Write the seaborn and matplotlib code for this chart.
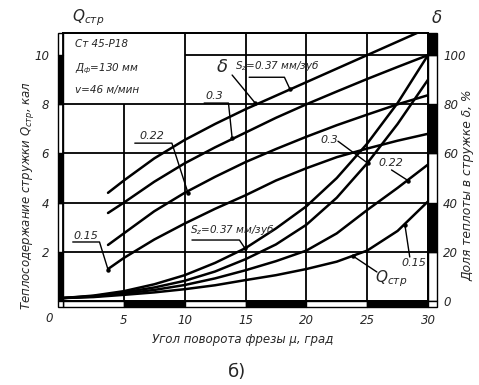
import pandas as pd
import matplotlib.pyplot as plt
import seaborn as sns
from matplotlib.patches import Rectangle

sns.set_style("white")
plt.rcParams['font.family'] = ['Liberation Sans Narrow', 'DejaVu Sans']
plt.rcParams['font.style'] = 'italic'
plt.rcParams['mathtext.fontset'] = 'dejavusans'
plt.rcParams['mathtext.default'] = 'it'

# ==========================
# Data
# ==========================

# heat content of chips Q_стр, cal
angle_q = [0, 2.5, 5, 7.5, 10, 12.5, 15, 17.5, 20, 22.5, 25, 27.5, 30]
q_037 = [0.12, 0.22, 0.40, 0.68, 1.05, 1.55, 2.15, 2.95, 3.85, 5.0, 6.4, 8.05, 10.0]
q_030 = [0.12, 0.20, 0.35, 0.55, 0.82, 1.20, 1.70, 2.30, 3.10, 4.2, 5.6, 7.2, 9.0]
q_022 = [0.12, 0.18, 0.30, 0.45, 0.65, 0.92, 1.25, 1.62, 2.05, 2.75, 3.7, 4.6, 5.55]
q_015 = [0.12, 0.16, 0.25, 0.35, 0.48, 0.64, 0.85, 1.05, 1.30, 1.60, 2.05, 2.85, 4.05]

# share of heat going into chips, %
angle_d = [3.7, 5, 7.5, 10, 12.5, 15, 17.5, 20, 22.5, 25, 27.5, 30]
d_037 = [44, 49, 58, 65.5, 72, 78, 83.5, 89, 94.5, 100, 105.5, 111]
d_030 = [35.8, 40, 48.5, 56, 62.5, 68.5, 74.5, 80, 85.2, 90.3, 95.2, 100]
d_022 = [22.8, 27.5, 36.5, 44, 50.5, 56.5, 61.8, 66.8, 71.5, 75.8, 80, 83.7]
d_015 = [13.0, 17.5, 25, 31.5, 37.5, 43, 49, 54, 58.5, 62, 65.2, 68]

feeds = ['0.37', '0.3', '0.22', '0.15']

q_df = pd.concat([pd.DataFrame({'angle': angle_q, 'Q': v, 'Sz': s})
                  for s, v in zip(feeds, [q_037, q_030, q_022, q_015])])
d_df = pd.concat([pd.DataFrame({'angle': angle_d, 'delta': v, 'Sz': s})
                  for s, v in zip(feeds, [d_037, d_030, d_022, d_015])])

QTOP = 10.9

fig = plt.figure(figsize=(4.79, 3.85), dpi=100)
ax = fig.add_axes([63 / 479, 1 - 301 / 385, 365 / 479, 268 / 385])
ax2 = ax.twinx()

ax.set_xlim(0, 30)
ax.set_ylim(0, QTOP)
ax2.set_ylim(0, QTOP * 10)

# grid (drawn by hand because of the text box in the corner)
ax.vlines([10, 15, 20, 25], 0, QTOP, color='black', lw=1.3, zorder=1)
ax.vlines([5], 0, 8, color='black', lw=1.3, zorder=1)
ax.hlines([2, 4, 6, 8], 0, 30, color='black', lw=1.3, zorder=1)
ax.hlines([10], 10, 30, color='black', lw=1.3, zorder=1)

sns.lineplot(data=q_df, x='angle', y='Q', units='Sz', estimator=None,
             color='black', lw=1.8, ax=ax, legend=False)
sns.lineplot(data=d_df, x='angle', y='delta', units='Sz', estimator=None,
             color='black', lw=1.8, ax=ax2, legend=False)

for a in (ax, ax2):
    for sp in a.spines.values():
        sp.set_color('black')
        sp.set_linewidth(1.3)
    a.tick_params(length=0)
    a.set_xlabel('')
    a.set_ylabel('')

ax.set_xticks([0, 5, 10, 15, 20, 25, 30])
ax.set_xticklabels(['', '5', '10', '15', '20', '25', '30'], fontsize=8.5)
ax.tick_params(axis='x', pad=9)
ax.set_yticks([2, 4, 6, 8, 10])
ax.set_yticklabels(['2', '4', '6', '8', '10'], fontsize=8.5)
ax.tick_params(axis='y', pad=10)
ax2.set_yticks([0, 20, 40, 60, 80, 100])
ax2.set_yticklabels(['0', '20', '40', '60', '80', '100'], fontsize=8.5)
ax2.tick_params(axis='y', pad=11)
fig.text(49 / 479, 1 - 318 / 385, '0', fontsize=8.5, ha='center', va='center')

# scale bars around the frame
def bar(x0, y0, w, h, fill):
    ax.add_patch(Rectangle((x0, y0), w, h, facecolor=fill, edgecolor='black',
                           lw=1.0, clip_on=False, zorder=3))

left_cols = ['black', 'white', 'black', 'white', 'black', 'white']
right_cols = ['white', 'black', 'white', 'black', 'white', 'black']
edges = [0, 2, 4, 6, 8, 10, QTOP]
for i in range(6):
    bar(-0.45, edges[i], 0.45, edges[i + 1] - edges[i], left_cols[i])
    bar(30, edges[i], 0.72, edges[i + 1] - edges[i], right_cols[i])
bottom_cols = ['white', 'black', 'white', 'black', 'white', 'black']
for i in range(6):
    bar(5 * i, -0.25, 5, 0.25, bottom_cols[i])
bar(-0.45, -0.25, 0.45, 0.25, 'white')
bar(30, -0.25, 0.72, 0.25, 'white')

# text box
ax.add_patch(Rectangle((0.02, 8.06), 9.93, QTOP - 8.08, facecolor='white',
                       edgecolor='none', zorder=2))
ax.text(1.0, 10.45, 'Ст 45-Р18', fontsize=7.5, va='center', zorder=4)
ax.text(1.0, 9.45, r'$Д_ф$=130 мм', fontsize=7.5, va='center', zorder=4)
ax.text(1.0, 8.6, 'v=46 м/мин', fontsize=7.5, va='center', zorder=4)

# leaders and labels
def leader(pts, label, tx, ty, size=8):
    xs = [p[0] for p in pts]
    ys = [p[1] for p in pts]
    ax.plot(xs, ys, color='black', lw=1.0, zorder=4)
    ax.plot(xs[-1], ys[-1], 'o', color='black', ms=2.2, zorder=4)
    ax.text(tx, ty, label, fontsize=size, ha='center', va='center', zorder=4)

leader([(13.9, 9.19), (15.8, 8.05)], 'δ', 13.1, 9.5, size=13)
leader([(15.3, 9.1), (18.2, 9.1), (18.65, 8.62)], r'$S_z$=0.37 мм/зуб', 17.6, 9.55, size=7.5)
leader([(11.6, 8.05), (13.6, 8.05), (13.9, 6.63)], '0.3', 12.4, 8.35)
leader([(5.9, 6.42), (8.95, 6.42), (10.27, 4.4)], '0.22', 7.3, 6.72)
leader([(0.8, 2.4), (3.0, 2.4), (3.7, 1.28)], '0.15', 1.9, 2.66)
leader([(10.6, 2.48), (14.5, 2.48), (14.95, 2.15)], r'$S_z$=0.37 мм/зуб', 13.9, 2.9, size=7.5)
leader([(22.6, 6.5), (25.06, 5.6)], '0.3', 21.9, 6.55)
leader([(27.0, 5.33), (28.35, 4.9)], '0.22', 26.95, 5.6)
leader([(28.5, 1.79), (28.1, 3.1)], '0.15', 28.84, 1.55)
leader([(25.8, 1.18), (23.8, 1.84)], r'$Q_{стр}$', 27.0, 0.9, size=11)

# axis titles
fig.text(88 / 479, 1 - 18 / 385, r'$Q_{стр}$', fontsize=11, ha='center', va='center')
fig.text(437 / 479, 1 - 18 / 385, 'δ', fontsize=12, ha='center', va='center')
fig.text(28 / 479, 1 - 195 / 385, r'Теплосодержание стружки $Q_{стр}$, кал',
         rotation=90, fontsize=8.5, ha='center', va='center')
fig.text(468 / 479, 1 - 185 / 385, 'Доля теплоты в стружке δ, %',
         rotation=90, fontsize=8.8, ha='center', va='center')
fig.text(243 / 479, 1 - 340 / 385, 'Угол поворота фрезы μ, град',
         fontsize=8.5, ha='center', va='center')
fig.text(237 / 479, 1 - 372 / 385, 'б)', fontsize=13, style='normal',
         family='DejaVu Sans', ha='center', va='center')

plt.savefig('out.png', dpi=100)
